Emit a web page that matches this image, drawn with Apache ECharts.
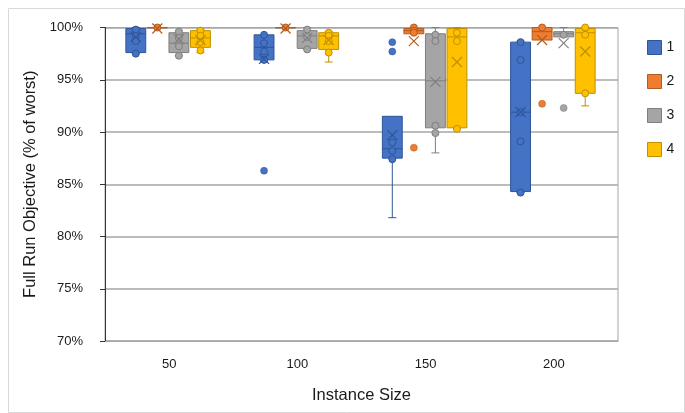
<!DOCTYPE html>
<html>
<head>
<meta charset="utf-8">
<script src="https://cdn.jsdelivr.net/npm/echarts@6/dist/echarts.min.js"></script>
<style>
  html, body { margin: 0; padding: 0; background: #fff; }
  #chart { width: 685px; height: 413px; }
</style>
</head>
<body>
<div id="chart"></div>
<script>
var categories = ['50', '100', '150', '200'];
var seriesNames = ['1', '2', '3', '4'];
var yTicks = [70, 75, 80, 85, 90, 95, 100];

// box values per instance size: [min, q1, median, q3, max]
var box1 = [[97.5, 97.6, 99.4, 99.9, 100], [96.7, 96.9, 98.1, 99.3, 99.3], [81.8, 87.5, 88.4, 91.5, 91.5], [84.2, 84.3, 91.9, 98.6, 98.7]];
var box2 = [[100, 100, 100, 100, 100], [100, 100, 100, 100, 100], [99.4, 99.4, 99.7, 99.9, 100], [98.8, 98.8, 99.6, 100, 100]];
var box3 = [[97.3, 97.6, 98.5, 99.5, 99.7], [97.9, 98.0, 99.2, 99.7, 100], [88.0, 90.4, 94.9, 99.4, 100], [99.1, 99.1, 99.4, 99.6, 100]];
var box4 = [[97.6, 98.1, 99.0, 99.7, 99.8], [96.7, 97.9, 99.2, 99.5, 99.6], [90.3, 90.4, 99.1, 99.9, 100], [92.5, 93.7, 99.5, 99.9, 100]];

// means (X markers)
var mean1 = [99.1, 97.0, 89.7, 91.9];
var mean2 = [99.9, 99.9, 98.7, 98.8];
var mean3 = [98.9, 99.0, 94.8, 98.5];
var mean4 = [98.8, 98.8, 96.7, 97.7];

// inner points
var points1 = [[99.8, 99.2, 98.7, 97.5], [99.3, 98.5, 97.7, 96.9], [89.0, 88.2, 87.4], [98.6, 96.9, 91.9, 89.1, 84.2]];
var points2 = [[100], [100], [100, 99.7, 99.5], [100]];
var points3 = [[99.6, 99.0, 98.2, 97.3], [99.8, 99.1, 97.9], [99.3, 98.7, 90.6, 89.9], [99.3]];
var points4 = [[99.7, 99.2, 98.6, 97.8], [99.5, 99.2, 98.7, 97.6], [99.5, 98.7, 90.3], [100, 99.3, 93.7]];

// outliers
var out1 = [[], [86.3], [98.6, 97.7], []];
var out2 = [[], [], [88.5], [92.7]];
var out3 = [[], [], [], [92.3]];
var out4 = [[], [], [], []];

var boxes = [box1, box2, box3, box4];
var means = [mean1, mean2, mean3, mean4];
var points = [points1, points2, points3, points4];
var outs = [out1, out2, out3, out4];

var colors = ['#4472C4', '#ED7D31', '#A5A5A5', '#FFC000'];
var darks = ['#2F5597', '#B45A1E', '#7F7F7F', '#BF9000'];
var font = "'Liberation Sans', Arial, sans-serif";

function makeRender(si) {
    return function (params, api) {
        var ci = api.value(0);
        var band = api.size([1, 0])[0];
        var x = api.coord([ci, 100])[0] + (si - 1.5) * band * 0.168 - 1;
        var w = band * 0.155;
        var c = colors[si], d = darks[si];
        function y(v) { return api.coord([ci, v])[1]; }
        var mn = api.value(1), q1 = api.value(2), md = api.value(3), q3 = api.value(4), mx = api.value(5), mean = api.value(6);
        var ln = { stroke: d, lineWidth: 1 };
        var kids = [];
        if (mn < q1) {
            kids.push({ type: 'line', shape: { x1: x, y1: y(mn), x2: x, y2: y(q1) }, style: ln });
            kids.push({ type: 'line', shape: { x1: x - 4, y1: y(mn), x2: x + 4, y2: y(mn) }, style: ln });
        }
        if (mx > q3) {
            kids.push({ type: 'line', shape: { x1: x, y1: y(mx), x2: x, y2: y(q3) }, style: ln });
            kids.push({ type: 'line', shape: { x1: x - 4, y1: y(mx), x2: x + 4, y2: y(mx) }, style: ln });
        }
        kids.push({ type: 'rect', shape: { x: x - w / 2, y: y(q3), width: w, height: Math.max(y(q1) - y(q3), 0.5) },
            style: { fill: c, stroke: d, lineWidth: 1 } });
        kids.push({ type: 'line', shape: { x1: x - w / 2, y1: y(md), x2: x + w / 2, y2: y(md) }, style: ln });
        points[si][ci].forEach(function (p) {
            kids.push({ type: 'circle', shape: { cx: x, cy: y(p), r: 3.5 }, style: { fill: c, stroke: d, lineWidth: 1 } });
        });
        var my = y(mean), s = 5;
        kids.push({ type: 'line', shape: { x1: x - s, y1: my - s, x2: x + s, y2: my + s }, style: { stroke: d, lineWidth: 1.2 } });
        kids.push({ type: 'line', shape: { x1: x - s, y1: my + s, x2: x + s, y2: my - s }, style: { stroke: d, lineWidth: 1.2 } });
        outs[si][ci].forEach(function (p) {
            kids.push({ type: 'circle', shape: { cx: x, cy: y(p), r: 3.5 }, style: { fill: c, stroke: d, lineWidth: 0.5 } });
        });
        return { type: 'group', children: kids };
    };
}

var series = seriesNames.map(function (name, si) {
    return {
        name: name,
        type: 'custom',
        renderItem: makeRender(si),
        clip: false,
        itemStyle: { color: colors[si], borderColor: darks[si] },
        encode: { x: 0, y: [1, 2, 3, 4, 5, 6] },
        data: boxes[si].map(function (b, i) { return [i].concat(b, [means[si][i]]); })
    };
});

var myChart = echarts.init(document.getElementById('chart'));
var option = {
    animation: false,
    textStyle: { fontFamily: font },
    grid: {
        left: 105, right: 67, top: 27.5, bottom: 72,
        show: true, borderColor: '#a6a6a6', borderWidth: 1
    },
    legend: {
        orient: 'vertical',
        left: 642, top: 35,
        icon: 'rect',
        itemWidth: 14, itemHeight: 14, itemGap: 19,
        textStyle: { fontSize: 14, color: '#1a1a1a', fontFamily: font },
        data: seriesNames.map(function (n, i) {
            return { name: n, itemStyle: { color: colors[i], borderColor: darks[i], borderWidth: 1 } };
        })
    },
    xAxis: {
        type: 'category',
        data: categories,
        name: 'Instance Size',
        nameLocation: 'middle',
        nameGap: 46,
        nameTextStyle: { fontSize: 16.5, color: '#1a1a1a', fontFamily: font },
        axisLine: { lineStyle: { color: '#a6a6a6' } },
        axisTick: { show: false },
        axisLabel: { fontSize: 13, color: '#1a1a1a', margin: 17, fontFamily: font }
    },
    yAxis: {
        type: 'value',
        min: yTicks[0], max: yTicks[yTicks.length - 1], interval: 5,
        name: 'Full Run Objective (% of worst)',
        nameLocation: 'middle',
        nameGap: 62,
        nameTextStyle: { fontSize: 16.5, color: '#1a1a1a', fontFamily: font },
        axisLine: { show: true, lineStyle: { color: '#333' } },
        axisTick: { show: true, inside: false, length: 5, lineStyle: { color: '#333' } },
        axisLabel: { fontSize: 13, color: '#1a1a1a', margin: 22, formatter: '{value}%', fontFamily: font },
        splitLine: { lineStyle: { color: '#a6a6a6', width: 1.5 } }
    },
    graphic: [{
        type: 'rect', silent: true,
        shape: { x: 8.5, y: 8.5, width: 676, height: 404 },
        style: { fill: 'none', stroke: '#d9d9d9', lineWidth: 1 }
    }],
    series: series
};
myChart.setOption(option);
window.onresize = myChart.resize;
</script>
</body>
</html>
